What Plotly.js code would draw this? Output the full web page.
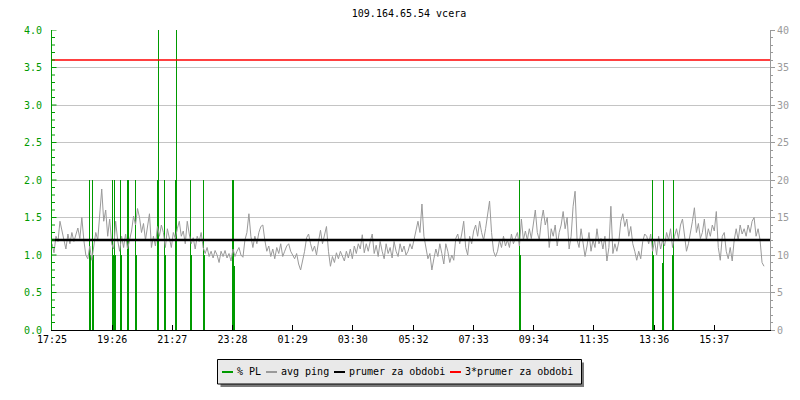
<!DOCTYPE html>
<html>
<head>
<meta charset="utf-8">
<script src="https://cdn.plot.ly/plotly-3.0.1.min.js"></script>
<style>html,body{margin:0;padding:0;background:#fff;}#chart{width:800px;height:400px;}</style>
</head>
<body>
<div id="chart"></div>
<script>
// ---------- DATA ----------
var chartTitle = '109.164.65.54 vcera';
// x axis: minutes after 17:25 (yesterday)
var tickMinutes = [0, 121, 242, 363, 484, 605, 727, 848, 969, 1090, 1211, 1332];
var tickLabels  = ['17:25','19:26','21:27','23:28','01:29','03:30','05:32','07:33','09:34','11:35','13:36','15:37'];
var periodMinutes = 1444;

// % PL (packet loss) samples, minutes after 17:25, percent
var plMinutes = [76, 78, 82, 84, 122, 124, 126, 128, 137, 139, 151, 153, 167, 169,
                 213, 215, 227, 229, 249, 251, 278, 280, 304, 306, 364, 366,
                 941, 943, 1207, 1209, 1227, 1229, 1247, 1249];
var plValues  = [2, 1, 2, 1, 2, 1, 2, 1, 2, 1, 2, 2, 2, 1,
                 2, 4.5, 2, 1, 2, 4.5, 2, 1, 2, 1, 2, 0.85,
                 2, 1, 2, 1, 0.9, 2, 1, 2];

// avg ping (ms), one sample every 4 minutes starting 17:25
var pingStep = 4;
var pingValues = [
 11.5,10.3,12.5,11.8,14.5,13.0,12.0,10.8,12.8,11.5,13.0,11.8,12.8,13.6,12.2,15.0,12.0,10.0,9.5,11.2,
 9.3,11.5,13.0,12.0,16.0,18.8,14.5,16.0,12.5,14.8,11.5,10.8,14.5,12.0,10.5,12.5,11.0,12.8,10.8,12.0,
 13.2,15.2,14.0,16.2,15.0,13.0,14.2,12.0,13.5,15.5,11.0,12.5,11.2,13.8,12.5,14.0,13.0,11.0,13.5,
 12.0,11.0,13.0,12.2,13.5,14.5,12.5,13.2,11.5,14.5,12.8,11.5,12.3,10.8,12.5,11.8,13.0,11.0,10.2,11.0,
 9.8,10.5,9.6,10.6,10.0,9.0,10.5,9.8,10.6,9.6,10.2,9.2,10.8,9.8,10.5,11.0,10.0,9.7,12.0,13.0,
 15.5,12.5,11.0,12.5,11.5,13.0,13.8,14.0,12.0,10.5,11.2,9.8,10.8,9.5,11.0,10.2,11.5,9.8,10.5,11.2,
 11.5,10.5,10.0,9.5,10.2,8.8,8.0,9.2,10.5,12.3,12.8,11.5,10.5,11.2,10.0,11.8,13.3,11.5,12.5,13.8,
 10.5,8.5,9.8,9.0,10.3,9.5,10.5,9.8,9.2,10.5,9.6,10.8,9.5,11.2,10.2,11.5,10.8,12.7,10.3,11.5,
 10.5,11.8,12.8,10.2,11.3,9.8,11.8,10.5,9.5,11.5,10.2,11.0,9.6,11.8,10.5,9.8,11.5,10.4,11.2,10.0,
 10.5,11.5,10.8,12.0,13.5,14.5,13.0,16.8,12.5,11.0,9.5,10.2,8.0,9.5,10.8,9.8,11.5,10.2,8.8,11.5,
 10.5,9.0,10.0,9.3,12.2,12.8,11.5,12.8,14.5,11.0,10.0,12.5,11.5,13.2,14.0,12.5,14.5,13.0,12.0,13.5,
 15.5,17.2,13.0,10.5,9.8,10.5,12.0,11.0,12.5,11.2,12.0,11.0,12.8,11.5,12.3,13.0,11.2,14.8,12.0,13.2,
 12.0,13.5,12.2,14.0,16.0,13.0,12.0,14.5,16.0,14.0,15.0,11.0,13.5,12.5,14.0,11.2,13.0,14.0,15.8,13.5,
 15.0,10.8,12.5,16.5,18.5,12.0,11.0,13.5,11.5,9.8,11.2,13.0,10.5,12.0,11.0,13.5,11.5,12.2,10.8,12.5,
 9.2,11.0,16.5,10.2,11.5,10.5,11.8,14.5,15.5,13.8,14.8,12.5,13.8,11.5,10.5,9.3,10.5,9.5,11.8,12.8,
 12.5,11.5,12.8,10.5,12.0,10.0,12.5,10.8,12.0,11.2,13.0,12.0,13.5,11.0,12.5,13.5,12.2,14.0,14.8,12.5,
 10.5,11.5,12.8,14.5,16.3,13.0,14.2,12.2,13.0,14.8,12.0,13.5,12.5,14.0,13.2,15.8,11.0,9.3,12.5,13.0,
 10.5,9.5,11.0,9.2,12.0,13.5,12.0,14.0,12.8,13.5,12.5,14.0,13.0,14.5,15.0,12.5,13.5,12.0,9.0,8.5
];
var prumer = 12;            // average ping for the period (ms)
var prumerTriple = 3 * prumer;

var legendLabels = ['% PL', 'avg ping', 'prumer za obdobi', '3*prumer za obdobi'];
var plMajorTicks = [0.5,1.0,1.5,2.0,2.5,3.0,3.5,4.0];
var plMinorTicks = [0.1,0.2,0.3,0.4,0.6,0.7,0.8,0.9,1.1,1.2,1.3,1.4,1.6,1.7,1.8,1.9,
                    2.1,2.2,2.3,2.4,2.6,2.7,2.8,2.9,3.1,3.2,3.3,3.4,3.6,3.7,3.8,3.9];

// ---------- STYLE ----------
var FONT = 'DejaVu Sans Mono, monospace';
var GREEN = '#009a00', GRAY = '#9a9a9a', RED = '#ff0000';
var legendColors = [GREEN, GRAY, '#000000', RED];

var pingMinutes = pingValues.map(function (v, i) { return i * pingStep; });

var traces = [
  { type: 'bar', x: plMinutes, y: plValues, width: 2.1, yaxis: 'y',
    marker: { color: GREEN, line: { width: 0 } }, hoverinfo: 'skip', name: legendLabels[0] },
  { type: 'scatter', mode: 'lines', x: pingMinutes, y: pingValues, yaxis: 'y2',
    line: { color: GRAY, width: 1 }, name: legendLabels[1] },
  { type: 'scatter', mode: 'lines', x: [0, periodMinutes], y: [prumer, prumer], yaxis: 'y2',
    line: { color: '#000000', width: 2.5 }, name: legendLabels[2] },
  { type: 'scatter', mode: 'lines', x: [0, periodMinutes], y: [prumerTriple, prumerTriple], yaxis: 'y2',
    line: { color: RED, width: 1.5 }, name: legendLabels[3] }
];

// pixel -> paper helpers (plot area: x 52..770, y 30..330)
var L = 52, R = 30, T = 30, B = 70, W = 800, H = 400;
function px(x) { return (x - L) / (W - L - R); }
function py(y) { return (H - B - y) / (H - T - B); }

var shapes = [];
// left-axis tick marks drawn inside the plot
plMajorTicks.forEach(function (v) {
  shapes.push({ type: 'line', xref: 'paper', yref: 'y', x0: px(52), x1: px(56.5), y0: v, y1: v,
    line: { color: GREEN, width: 1 }, layer: 'above' });
});
plMinorTicks.forEach(function (v) {
  shapes.push({ type: 'line', xref: 'paper', yref: 'y', x0: px(52), x1: px(55), y0: v, y1: v,
    line: { color: GREEN, width: 1 }, layer: 'above' });
});
// legend box with shadow
shapes.push({ type: 'rect', xref: 'paper', yref: 'paper', x0: px(220.5), x1: px(584), y0: py(362.5), y1: py(387),
    fillcolor: '#7a7a7a', line: { width: 0 }, layer: 'above' });
shapes.push({ type: 'rect', xref: 'paper', yref: 'paper', x0: px(217.5), x1: px(581.5), y0: py(359.5), y1: py(384),
    fillcolor: '#e9e9e9', line: { color: '#000', width: 1 }, layer: 'above' });
var annotations = [];
var segX = [222, 266, 334, 450];
legendLabels.forEach(function (lab, i) {
  shapes.push({ type: 'line', xref: 'paper', yref: 'paper', x0: px(segX[i]), x1: px(segX[i] + 11),
    y0: py(372), y1: py(372), line: { color: legendColors[i], width: 2 }, layer: 'above' });
  annotations.push({ xref: 'paper', yref: 'paper', x: px(segX[i] + 13), y: py(371.5), xanchor: 'left',
    yanchor: 'middle', showarrow: false, text: lab, font: { family: FONT, size: 10, color: '#000' } });
});

var layout = {
  width: W, height: H,
  margin: { l: L, r: R, t: T, b: B, pad: 0 },
  paper_bgcolor: '#fff', plot_bgcolor: '#fff',
  showlegend: false,
  font: { family: FONT, size: 10, color: '#000' },
  title: { text: chartTitle, font: { family: FONT, size: 10, color: '#000' },
           x: px(409), xref: 'paper', xanchor: 'center', y: 1 - 13 / H, yref: 'container', yanchor: 'middle' },
  xaxis: { range: [0, periodMinutes], tickvals: tickMinutes, ticktext: tickLabels,
           showgrid: false, zeroline: false, showline: true, linecolor: '#000', linewidth: 1,
           ticks: 'inside', ticklen: 5, tickcolor: '#000', tickwidth: 1,
           tickfont: { family: FONT, size: 10, color: '#000' } },
  yaxis: { range: [0, 4], dtick: 0.5, tick0: 0, tickformat: '.1f', zeroline: false,
           showline: true, linecolor: GREEN, linewidth: 1,
           ticks: '', gridcolor: '#c4c4c4', gridwidth: 1,
           tickfont: { family: FONT, size: 10, color: GREEN }, ticklabelstandoff: 7 },
  yaxis2: { range: [0, 40], dtick: 5, tick0: 0, overlaying: 'y', side: 'right', zeroline: false,
            showgrid: false, showline: true, linecolor: GRAY, linewidth: 1,
            ticks: 'outside', ticklen: 4, tickcolor: GRAY,
            minor: { dtick: 1, ticks: 'outside', ticklen: 2, tickcolor: GRAY, showgrid: false },
            tickfont: { family: FONT, size: 10, color: GRAY } },
  shapes: shapes,
  annotations: annotations,
  bargap: 0
};

Plotly.newPlot('chart', traces, layout, { staticPlot: true, displayModeBar: false });
</script>
</body>
</html>
